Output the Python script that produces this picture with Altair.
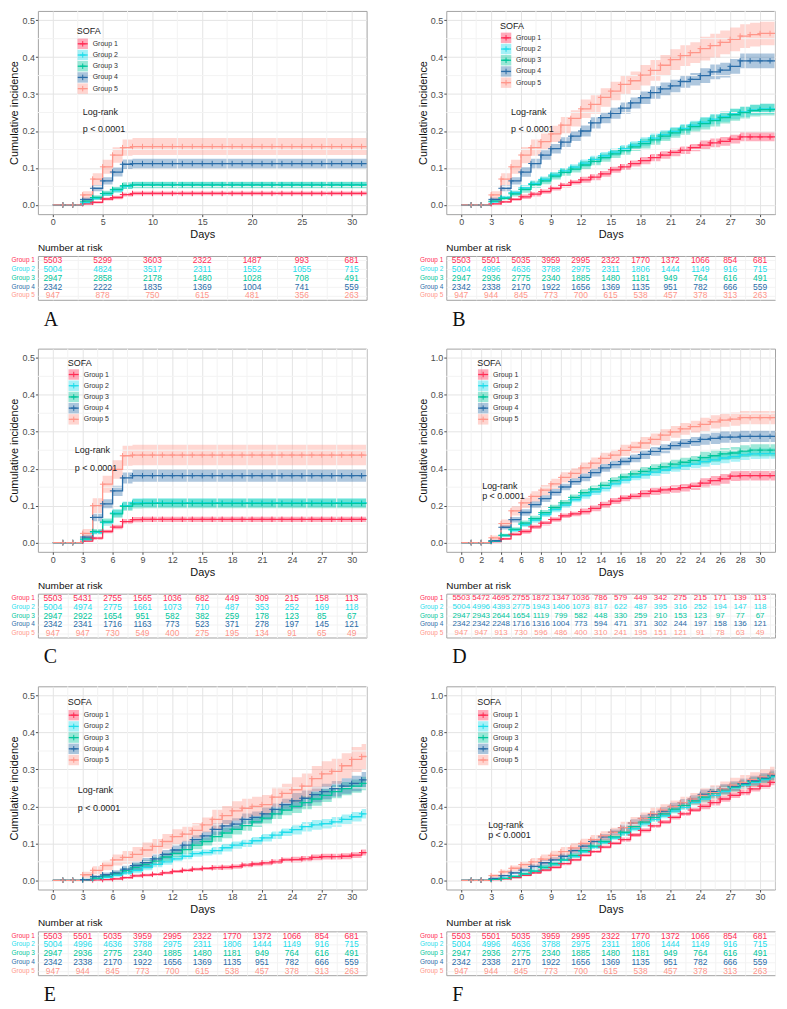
import altair as alt
import pandas as pd

GROUPS = ["Group 1", "Group 2", "Group 3", "Group 4", "Group 5"]
LINE_COLORS = ["#FF2D55", "#1FDDEB", "#00C69B", "#2B6DA8", "#FF968A"]
TABLE_COLORS = ["#FF3D63", "#29DDEB", "#12C79C", "#3C78B8", "#FFA99F"]
DAYS = list(range(32))
FOLLOW_UP_END = 31.5

# ---------------- Panel A ----------------
A_EST = [
    [0, 0, 0, 0.003, 0.007, 0.016, 0.020, 0.028, 0.031] + [0.031] * 23,
    [0, 0, 0, 0.006, 0.018, 0.030, 0.040, 0.050, 0.055] + [0.055] * 23,
    [0, 0, 0, 0.010, 0.020, 0.031, 0.042, 0.052, 0.054] + [0.054] * 23,
    [0, 0, 0, 0.015, 0.045, 0.065, 0.089, 0.110, 0.112] + [0.112] * 23,
    [0, 0, 0, 0.027, 0.070, 0.103, 0.135, 0.155, 0.158] + [0.158] * 23,
]
A_CI = [
    [0, 0, 0, 0.002, 0.003, 0.004, 0.005, 0.005, 0.005] + [0.005] * 23,
    [0, 0, 0, 0.003, 0.005, 0.006, 0.007, 0.007, 0.007] + [0.007] * 23,
    [0, 0, 0, 0.004, 0.006, 0.007, 0.008, 0.009, 0.009] + [0.009] * 23,
    [0, 0, 0, 0.005, 0.008, 0.010, 0.012, 0.013, 0.013] + [0.013] * 23,
    [0, 0, 0, 0.010, 0.016, 0.019, 0.021, 0.022, 0.023] + [0.023] * 23,
]
A_RISK_DAYS = [0, 5, 10, 15, 20, 25, 30]
A_RISK = [
    [5503, 5299, 3603, 2322, 1487, 993, 681],
    [5004, 4824, 3517, 2311, 1552, 1055, 715],
    [2947, 2858, 2178, 1480, 1028, 708, 491],
    [2342, 2222, 1835, 1369, 1004, 741, 559],
    [947, 878, 750, 615, 481, 356, 263],
]

# ---------------- Panel B ----------------
B_EST = [
    [0, 0, 0, 0.003, 0.008, 0.015, 0.022, 0.029, 0.036, 0.045, 0.053, 0.061, 0.068, 0.075, 0.084, 0.095,
     0.103, 0.112, 0.120, 0.128, 0.135, 0.142, 0.148, 0.155, 0.162, 0.168, 0.172, 0.178, 0.184, 0.184, 0.184, 0.184],
    [0, 0, 0, 0.008, 0.020, 0.033, 0.046, 0.058, 0.069, 0.081, 0.092, 0.102, 0.113, 0.123, 0.133, 0.143,
     0.152, 0.162, 0.171, 0.181, 0.190, 0.199, 0.207, 0.216, 0.224, 0.232, 0.239, 0.246, 0.252, 0.257, 0.260, 0.260],
    [0, 0, 0, 0.010, 0.018, 0.030, 0.042, 0.055, 0.065, 0.078, 0.088, 0.097, 0.108, 0.118, 0.128, 0.138,
     0.147, 0.157, 0.166, 0.176, 0.186, 0.195, 0.203, 0.212, 0.220, 0.228, 0.236, 0.244, 0.250, 0.255, 0.258, 0.258],
    [0, 0, 0, 0.015, 0.045, 0.065, 0.089, 0.112, 0.135, 0.152, 0.170, 0.186, 0.200, 0.222, 0.236, 0.248,
     0.262, 0.276, 0.290, 0.304, 0.314, 0.322, 0.334, 0.340, 0.350, 0.360, 0.365, 0.375, 0.390, 0.390, 0.390, 0.390],
    [0, 0, 0, 0.027, 0.070, 0.103, 0.135, 0.155, 0.171, 0.192, 0.216, 0.234, 0.260, 0.272, 0.291, 0.308,
     0.326, 0.336, 0.351, 0.364, 0.378, 0.393, 0.404, 0.412, 0.423, 0.431, 0.440, 0.448, 0.457, 0.461, 0.464, 0.464],
]
B_CI = [
    [0, 0, 0, 0.002, 0.003, 0.004] + [0.006] * 6 + [0.008] * 6 + [0.010] * 6 + [0.012] * 8,
    [0, 0, 0, 0.003, 0.005, 0.006] + [0.008] * 6 + [0.010] * 6 + [0.012] * 6 + [0.014] * 8,
    [0, 0, 0, 0.003, 0.005, 0.007] + [0.009] * 6 + [0.011] * 6 + [0.013] * 6 + [0.016] * 8,
    [0, 0, 0, 0.005, 0.008, 0.010] + [0.013] * 6 + [0.015] * 6 + [0.017] * 6 + [0.020] * 8,
    [0, 0, 0, 0.010, 0.016, 0.019] + [0.022] * 6 + [0.025] * 6 + [0.028] * 6 + [0.032] * 8,
]
B_RISK_DAYS = [0, 3, 6, 9, 12, 15, 18, 21, 24, 27, 30]
B_RISK = [
    [5503, 5501, 5035, 3959, 2995, 2322, 1770, 1372, 1066, 854, 681],
    [5004, 4996, 4636, 3788, 2975, 2311, 1806, 1444, 1149, 916, 715],
    [2947, 2936, 2775, 2340, 1885, 1480, 1181, 949, 764, 616, 491],
    [2342, 2338, 2170, 1922, 1656, 1369, 1135, 951, 782, 666, 559],
    [947, 944, 845, 773, 700, 615, 538, 457, 378, 313, 263],
]

# ---------------- Panel C ----------------
C_EST = [
    [0, 0, 0, 0.004, 0.012, 0.030, 0.042, 0.057, 0.062] + [0.063] * 23,
    [0, 0, 0, 0.008, 0.028, 0.054, 0.080, 0.100, 0.108] + [0.108] * 23,
    [0, 0, 0, 0.010, 0.030, 0.056, 0.078, 0.098, 0.105] + [0.106] * 23,
    [0, 0, 0, 0.015, 0.068, 0.105, 0.140, 0.175, 0.181] + [0.181] * 23,
    [0, 0, 0, 0.025, 0.100, 0.158, 0.198, 0.235, 0.237] + [0.237] * 23,
]
C_CI = [
    [0, 0, 0, 0.002, 0.004, 0.005, 0.006, 0.007, 0.007] + [0.007] * 23,
    [0, 0, 0, 0.003, 0.006, 0.008, 0.010, 0.011, 0.012] + [0.012] * 23,
    [0, 0, 0, 0.004, 0.007, 0.009, 0.011, 0.012, 0.013] + [0.013] * 23,
    [0, 0, 0, 0.006, 0.010, 0.012, 0.014, 0.015, 0.016] + [0.016] * 23,
    [0, 0, 0, 0.012, 0.020, 0.023, 0.025, 0.027, 0.028] + [0.028] * 23,
]
C_RISK_DAYS = [0, 3, 6, 9, 12, 15, 18, 21, 24, 27, 30]
C_RISK = [
    [5503, 5431, 2755, 1565, 1036, 682, 449, 309, 215, 158, 113],
    [5004, 4974, 2775, 1661, 1073, 710, 487, 353, 252, 169, 118],
    [2947, 2922, 1654, 951, 582, 382, 259, 178, 123, 85, 67],
    [2342, 2341, 1716, 1163, 773, 523, 371, 278, 197, 145, 121],
    [947, 947, 730, 549, 400, 275, 195, 134, 91, 65, 49],
]

# ---------------- Panel D ----------------
D_EST = [
    [0, 0, 0, 0.005, 0.020, 0.045, 0.060, 0.085, 0.105, 0.125, 0.145, 0.155, 0.168, 0.185, 0.205, 0.225,
     0.240, 0.250, 0.265, 0.278, 0.285, 0.290, 0.297, 0.305, 0.322, 0.335, 0.345, 0.360, 0.362, 0.362, 0.362, 0.362],
    [0, 0, 0, 0.007, 0.038, 0.068, 0.098, 0.122, 0.152, 0.178, 0.203, 0.232, 0.255, 0.275, 0.295, 0.318,
     0.338, 0.355, 0.368, 0.382, 0.393, 0.405, 0.415, 0.425, 0.438, 0.448, 0.458, 0.465, 0.475, 0.480, 0.482, 0.482],
    [0, 0, 0, 0.008, 0.040, 0.072, 0.105, 0.130, 0.162, 0.190, 0.215, 0.245, 0.270, 0.290, 0.310, 0.335,
     0.355, 0.372, 0.385, 0.400, 0.410, 0.425, 0.435, 0.445, 0.460, 0.470, 0.480, 0.485, 0.495, 0.500, 0.500, 0.500],
    [0, 0, 0, 0.010, 0.083, 0.124, 0.163, 0.206, 0.238, 0.272, 0.301, 0.330, 0.353, 0.379, 0.404, 0.422,
     0.439, 0.456, 0.477, 0.494, 0.508, 0.525, 0.537, 0.547, 0.559, 0.564, 0.571, 0.571, 0.575, 0.575, 0.575, 0.575],
    [0, 0, 0, 0.026, 0.103, 0.172, 0.215, 0.250, 0.284, 0.318, 0.353, 0.375, 0.404, 0.430, 0.456, 0.473,
     0.499, 0.516, 0.539, 0.559, 0.582, 0.599, 0.616, 0.628, 0.640, 0.654, 0.663, 0.668, 0.676, 0.676, 0.676, 0.676],
]
D_CI = [
    [0, 0, 0, 0.003, 0.006, 0.009] + [0.012] * 6 + [0.016] * 6 + [0.020] * 6 + [0.026] * 8,
    [0, 0, 0, 0.004, 0.008, 0.011] + [0.014] * 6 + [0.018] * 6 + [0.022] * 6 + [0.028] * 8,
    [0, 0, 0, 0.004, 0.008, 0.011] + [0.015] * 6 + [0.019] * 6 + [0.024] * 6 + [0.032] * 8,
    [0, 0, 0, 0.005, 0.012, 0.015] + [0.018] * 6 + [0.021] * 6 + [0.024] * 6 + [0.030] * 8,
    [0, 0, 0, 0.012, 0.022, 0.025] + [0.028] * 6 + [0.030] * 6 + [0.032] * 6 + [0.036] * 8,
]
D_RISK_DAYS = [0, 2, 4, 6, 8, 10, 12, 14, 16, 18, 20, 22, 24, 26, 28, 30]
D_RISK = [
    [5503, 5472, 4695, 2755, 1872, 1347, 1036, 786, 579, 449, 342, 275, 215, 171, 139, 113],
    [5004, 4996, 4393, 2775, 1943, 1406, 1073, 817, 622, 487, 395, 316, 252, 194, 147, 118],
    [2947, 2943, 2644, 1654, 1119, 799, 582, 448, 330, 259, 210, 153, 123, 97, 77, 67],
    [2342, 2342, 2248, 1716, 1316, 1004, 773, 594, 471, 371, 302, 244, 197, 158, 136, 121],
    [947, 947, 913, 730, 596, 486, 400, 310, 241, 195, 151, 121, 91, 78, 63, 49],
]

# ---------------- Panel E ----------------
E_EST = [
    [0, 0, 0, 0.000, 0.001, 0.002, 0.004, 0.007, 0.012, 0.014, 0.016, 0.020, 0.024, 0.027, 0.030, 0.032,
     0.034, 0.035, 0.037, 0.041, 0.044, 0.047, 0.050, 0.055, 0.056, 0.058, 0.062, 0.064, 0.064, 0.065, 0.068, 0.075],
    [0, 0, 0, 0.001, 0.004, 0.008, 0.013, 0.020, 0.027, 0.035, 0.043, 0.050, 0.058, 0.065, 0.072, 0.075,
     0.080, 0.088, 0.095, 0.100, 0.107, 0.115, 0.122, 0.130, 0.137, 0.145, 0.150, 0.153, 0.158, 0.165, 0.172, 0.180],
    [0, 0, 0, 0.002, 0.006, 0.012, 0.018, 0.026, 0.035, 0.043, 0.052, 0.063, 0.073, 0.083, 0.095, 0.105,
     0.118, 0.128, 0.138, 0.148, 0.158, 0.168, 0.180, 0.190, 0.200, 0.210, 0.220, 0.230, 0.240, 0.248, 0.255, 0.262],
    [0, 0, 0, 0.002, 0.010, 0.015, 0.020, 0.030, 0.040, 0.048, 0.058, 0.070, 0.082, 0.095, 0.110, 0.120,
     0.138, 0.147, 0.152, 0.165, 0.170, 0.180, 0.192, 0.205, 0.215, 0.222, 0.232, 0.240, 0.248, 0.255, 0.262, 0.272],
    [0, 0, 0, 0.015, 0.027, 0.040, 0.055, 0.062, 0.070, 0.082, 0.092, 0.105, 0.118, 0.125, 0.135, 0.150,
     0.165, 0.175, 0.188, 0.195, 0.200, 0.205, 0.225, 0.235, 0.245, 0.255, 0.275, 0.288, 0.295, 0.310, 0.327, 0.335],
]
E_CI = [
    [0, 0, 0, 0, 0.001, 0.002, 0.003, 0.003] + [0.004] * 8 + [0.006] * 8 + [0.008] * 8,
    [0, 0, 0, 0.001, 0.002, 0.004, 0.005, 0.006] + [0.008] * 8 + [0.010] * 8 + [0.013] * 8,
    [0, 0, 0, 0.002, 0.003, 0.005, 0.006, 0.008] + [0.011] * 8 + [0.014] * 8 + [0.018] * 8,
    [0, 0, 0, 0.002, 0.004, 0.006, 0.007, 0.009] + [0.012] * 8 + [0.016] * 8 + [0.021] * 8,
    [0, 0, 0, 0.008, 0.011, 0.013, 0.015, 0.017] + [0.020] * 8 + [0.026] * 8 + [0.034] * 8,
]
E_RISK_DAYS = [0, 3, 6, 9, 12, 15, 18, 21, 24, 27, 30]
E_RISK = [
    [5503, 5501, 5035, 3959, 2995, 2322, 1770, 1372, 1066, 854, 681],
    [5004, 4996, 4636, 3788, 2975, 2311, 1806, 1444, 1149, 916, 715],
    [2947, 2936, 2775, 2340, 1885, 1480, 1181, 949, 764, 616, 491],
    [2342, 2338, 2170, 1922, 1656, 1369, 1135, 951, 782, 666, 559],
    [947, 944, 845, 773, 700, 615, 538, 457, 378, 313, 263],
]

# ---------------- Panel F ----------------
F_EST = [
    [0, 0, 0, 0.003, 0.008, 0.015, 0.027, 0.040, 0.055, 0.070, 0.090, 0.110, 0.135, 0.155, 0.180, 0.200,
     0.220, 0.245, 0.270, 0.295, 0.315, 0.340, 0.360, 0.380, 0.400, 0.420, 0.440, 0.460, 0.475, 0.495, 0.510, 0.530],
    [0, 0, 0, 0.005, 0.012, 0.022, 0.035, 0.050, 0.070, 0.088, 0.108, 0.130, 0.155, 0.180, 0.205, 0.230,
     0.255, 0.280, 0.305, 0.330, 0.350, 0.375, 0.395, 0.420, 0.440, 0.460, 0.480, 0.500, 0.515, 0.530, 0.545, 0.560],
    [0, 0, 0, 0.005, 0.010, 0.020, 0.035, 0.050, 0.070, 0.090, 0.110, 0.135, 0.160, 0.185, 0.210, 0.235,
     0.260, 0.290, 0.315, 0.340, 0.360, 0.385, 0.405, 0.430, 0.450, 0.470, 0.490, 0.505, 0.520, 0.535, 0.550, 0.565],
    [0, 0, 0, 0.010, 0.025, 0.040, 0.055, 0.075, 0.095, 0.110, 0.130, 0.160, 0.185, 0.210, 0.235, 0.260,
     0.285, 0.310, 0.335, 0.355, 0.375, 0.400, 0.420, 0.440, 0.465, 0.480, 0.495, 0.510, 0.525, 0.540, 0.555, 0.570],
    [0, 0, 0, 0.025, 0.045, 0.065, 0.085, 0.100, 0.115, 0.135, 0.155, 0.175, 0.200, 0.220, 0.240, 0.260,
     0.285, 0.310, 0.335, 0.360, 0.380, 0.400, 0.420, 0.440, 0.460, 0.475, 0.495, 0.515, 0.530, 0.545, 0.560, 0.575],
]
F_CI = [
    [0, 0, 0, 0.002, 0.003, 0.004, 0.005, 0.006] + [0.008] * 8 + [0.011] * 8 + [0.015] * 8,
    [0, 0, 0, 0.002, 0.004, 0.005, 0.006, 0.008] + [0.010] * 8 + [0.014] * 8 + [0.019] * 8,
    [0, 0, 0, 0.002, 0.004, 0.006, 0.008, 0.010] + [0.013] * 8 + [0.018] * 8 + [0.024] * 8,
    [0, 0, 0, 0.004, 0.006, 0.008, 0.010, 0.012] + [0.015] * 8 + [0.020] * 8 + [0.026] * 8,
    [0, 0, 0, 0.008, 0.012, 0.015, 0.018, 0.021] + [0.025] * 8 + [0.032] * 8 + [0.040] * 8,
]
F_RISK_DAYS = [0, 3, 6, 9, 12, 15, 18, 21, 24, 27, 30]
F_RISK = [
    [5503, 5501, 5035, 3959, 2995, 2322, 1770, 1372, 1066, 854, 681],
    [5004, 4996, 4636, 3788, 2975, 2311, 1806, 1444, 1149, 916, 715],
    [2947, 2936, 2775, 2340, 1885, 1480, 1181, 949, 764, 616, 491],
    [2342, 2338, 2170, 1922, 1656, 1369, 1135, 951, 782, 666, 559],
    [947, 944, 845, 773, 700, 615, 538, 457, 378, 313, 263],
]

PANELS = [
    dict(letter="A", est=A_EST, ci=A_CI, rdays=A_RISK_DAYS, risk=A_RISK, xstep=5, ymax=0.5, ystep=0.1, tfont=8.5),
    dict(letter="B", est=B_EST, ci=B_CI, rdays=B_RISK_DAYS, risk=B_RISK, xstep=3, ymax=0.5, ystep=0.1, tfont=8.5),
    dict(letter="C", est=C_EST, ci=C_CI, rdays=C_RISK_DAYS, risk=C_RISK, xstep=3, ymax=0.5, ystep=0.1, tfont=8.5),
    dict(letter="D", est=D_EST, ci=D_CI, rdays=D_RISK_DAYS, risk=D_RISK, xstep=2, ymax=1.0, ystep=0.2, tfont=8),
    dict(letter="E", est=E_EST, ci=E_CI, rdays=E_RISK_DAYS, risk=E_RISK, xstep=3, ymax=0.5, ystep=0.1, tfont=8.5),
    dict(letter="F", est=F_EST, ci=F_CI, rdays=F_RISK_DAYS, risk=F_RISK, xstep=3, ymax=1.0, ystep=0.2, tfont=8.5),
]

# layout (pixels, relative to each plot area)
LAYOUT = {
    "A": dict(lx=40, y0=33, y1=78, sofa_y=20, lr_x=45, lr_y1=101, lr_y2=119),
    "B": dict(lx=55, y0=27, y1=72, sofa_y=15, lr_x=65, lr_y1=101, lr_y2=119),
    "C": dict(lx=31, y0=26, y1=71, sofa_y=14, lr_x=37, lr_y1=102, lr_y2=120),
    "D": dict(lx=32, y0=26, y1=71, sofa_y=14, lr_x=36, lr_y1=138, lr_y2=148),
    "E": dict(lx=31, y0=29, y1=74, sofa_y=16, lr_x=40, lr_y1=104, lr_y2=122),
    "F": dict(lx=32, y0=29, y1=74, sofa_y=16, lr_x=42, lr_y1=139, lr_y2=149),
}

PLUS = "M-1,0L1,0M0,-1L0,1"
W, H = 330, 204
TH = 44
XDOM = [-1.5, 31.5]
MAJOR = "#e4e4e4"
MINOR = "#f3f3f3"
FONT = "Liberation Sans"

color_scale = alt.Scale(domain=GROUPS, range=LINE_COLORS)
table_scale = alt.Scale(domain=GROUPS, range=TABLE_COLORS)


def grid_values(step, top, minor):
    vals, k = [], 0
    while k * step / 2 <= top + 1e-9:
        if (k % 2 == 1) == minor:
            vals.append(round(k * step / 2, 4))
        k += 1
    return vals


def km_chart(p):
    rows = []
    for g, est, ci in zip(GROUPS, p["est"], p["ci"]):
        for d, e, c in zip(DAYS, est, ci):
            rows.append({"group": g, "day": d, "est": e, "lo": max(e - c, 0.0), "hi": e + c, "censor": d >= 1})
        rows.append({"group": g, "day": FOLLOW_UP_END, "est": e, "lo": max(e - c, 0.0), "hi": e + c, "censor": False})
    df = pd.DataFrame(rows)

    xs = alt.Scale(domain=XDOM, nice=False, zero=False)
    ys = alt.Scale(domain=[-0.05 * p["ymax"], 1.05 * p["ymax"]], nice=False, zero=False)
    xaxis = alt.Axis(values=grid_values(p["xstep"], 31.5, False), tickCount=100, title="Days", format="d",
                     labelOverlap=False, labelFlush=False, grid=True, gridColor=MAJOR)
    yaxis = alt.Axis(values=grid_values(p["ystep"], p["ymax"], False), tickCount=100,
                     title="Cumulative incidence", format=".1f", labelOverlap=False, labelFlush=False,
                     grid=True, gridColor=MAJOR)
    col = alt.Color("group:N", scale=color_scale, legend=None)

    xminor = alt.Chart(pd.DataFrame({"v": grid_values(p["xstep"], 31.5, True)})).mark_rule(
        color=MINOR, strokeWidth=1).encode(x=alt.X("v:Q", scale=xs, title="Days"))
    yminor = alt.Chart(pd.DataFrame({"v": grid_values(p["ystep"], p["ymax"], True)})).mark_rule(
        color=MINOR, strokeWidth=1).encode(y=alt.Y("v:Q", scale=ys, title="Cumulative incidence"))

    base = alt.Chart(df)
    band = base.mark_area(interpolate="step-after", opacity=0.38).encode(
        x=alt.X("day:Q", scale=xs, axis=xaxis),
        y=alt.Y("lo:Q", scale=ys, axis=yaxis),
        y2="hi:Q", color=col)
    line = base.mark_line(interpolate="step-after", strokeWidth=1.3).encode(
        x=alt.X("day:Q", scale=xs, title="Days"),
        y=alt.Y("est:Q", scale=ys, title="Cumulative incidence"), color=col)
    pts = base.transform_filter("datum.censor").mark_point(
        shape=PLUS, filled=False, size=30, strokeWidth=1, opacity=1).encode(
        x=alt.X("day:Q", scale=xs, title="Days"),
        y=alt.Y("est:Q", scale=ys, title="Cumulative incidence"), color=col)

    lay = LAYOUT[p["letter"]]
    lx = lay["lx"]
    leg_df = pd.DataFrame({"group": GROUPS})
    ly = alt.Y("group:N", scale=alt.Scale(type="point", domain=GROUPS,
                                          range=[lay["y0"], lay["y1"]], padding=0), axis=None)
    lbase = alt.Chart(leg_df)
    l_rect = lbase.mark_point(shape="square", filled=True, size=110, opacity=0.4).encode(
        x=alt.value(lx + 5), y=ly, color=col)
    l_rule = lbase.mark_rule(strokeWidth=1.3).encode(
        x=alt.value(lx), x2=alt.value(lx + 10), y=ly, color=col)
    l_plus = lbase.mark_point(shape=PLUS, filled=False, size=30, strokeWidth=1, opacity=1).encode(
        x=alt.value(lx + 5), y=ly, color=col)
    l_text = lbase.mark_text(align="left", baseline="middle", fontSize=7, color="#333333").encode(
        x=alt.value(lx + 15), y=ly, text="group:N")
    sofa = alt.Chart(alt.Data(values=[{"t": "SOFA"}])).mark_text(
        align="left", baseline="middle", fontSize=9, color="#222222").encode(
        x=alt.value(lx - 1), y=alt.value(lay["sofa_y"]), text="t:N")
    lr1 = alt.Chart(alt.Data(values=[{"t": "Log-rank"}])).mark_text(
        align="left", baseline="middle", fontSize=9, color="#222222").encode(
        x=alt.value(lay["lr_x"]), y=alt.value(lay["lr_y1"]), text="t:N")
    lr2 = alt.Chart(alt.Data(values=[{"t": "p < 0.0001"}])).mark_text(
        align="left", baseline="middle", fontSize=9, color="#222222").encode(
        x=alt.value(lay["lr_x"]), y=alt.value(lay["lr_y2"]), text="t:N")

    legend = alt.layer(l_rect, l_rule, l_plus, l_text, sofa, lr1, lr2)
    curves = alt.layer(band, xminor, yminor, line, pts)
    return alt.layer(curves, legend).resolve_scale(y="independent").properties(width=W, height=H)


def table_chart(p):
    rows = [{"group": g, "day": d, "n": n}
            for g, ns in zip(GROUPS, p["risk"]) for d, n in zip(p["rdays"], ns)]
    xs = alt.Scale(domain=XDOM, nice=False, zero=False)
    tx = alt.X("day:Q", scale=xs, axis=alt.Axis(
        values=grid_values(p["xstep"], 31.5, False) + grid_values(p["xstep"], 31.5, True), tickCount=100,
        grid=True, gridColor=MINOR, labels=False, ticks=False, domain=False, title=None))
    ty = alt.Y("group:N", scale=alt.Scale(type="point", domain=GROUPS, padding=0.5),
               axis=alt.Axis(grid=True, gridColor=MINOR, labels=False, ticks=False, domain=False, title=None))
    tcol = alt.Color("group:N", scale=table_scale, legend=None)
    nums = alt.Chart(pd.DataFrame(rows)).mark_text(fontSize=p["tfont"], baseline="middle").encode(
        x=tx, y=ty, color=tcol, text=alt.Text("n:Q", format="d"))
    glab = alt.Chart(pd.DataFrame({"group": GROUPS})).mark_text(
        align="right", baseline="middle", fontSize=6.5).encode(
        x=alt.value(-3), y=ty, color=tcol, text="group:N")
    letter = alt.Chart(alt.Data(values=[{"t": p["letter"]}])).mark_text(
        align="left", baseline="middle", font="Liberation Serif", fontSize=20, color="#111111").encode(
        x=alt.value(6), y=alt.value(TH + 20), text="t:N")
    return alt.layer(nums, glab, letter).properties(
        width=W, height=TH,
        title=alt.TitleParams("Number at risk", anchor="start", frame="group", fontSize=10,
                              fontWeight="normal", offset=3, font=FONT, color="#111111"))


panels = [alt.vconcat(km_chart(p), table_chart(p), spacing=2) for p in PANELS]
rows = [alt.hconcat(panels[i], panels[i + 1], spacing=46) for i in (0, 2, 4)]

chart = alt.vconcat(*rows, spacing=17).properties(
    padding={"left": 0, "top": 0, "right": 0, "bottom": 0}
).configure(font=FONT).configure_view(
    stroke="#a3a3a3", strokeWidth=1
).configure_axis(
    labelFont=FONT, titleFont=FONT, labelFontSize=9, titleFontSize=11, titleFontWeight="normal",
    labelColor="#4d4d4d", tickColor="#4d4d4d", tickSize=2.5, labelPadding=1, titlePadding=2,
    domain=False, titleColor="#111111"
)

chart.save("out.html", embed_options={"renderer": "svg", "actions": False})
